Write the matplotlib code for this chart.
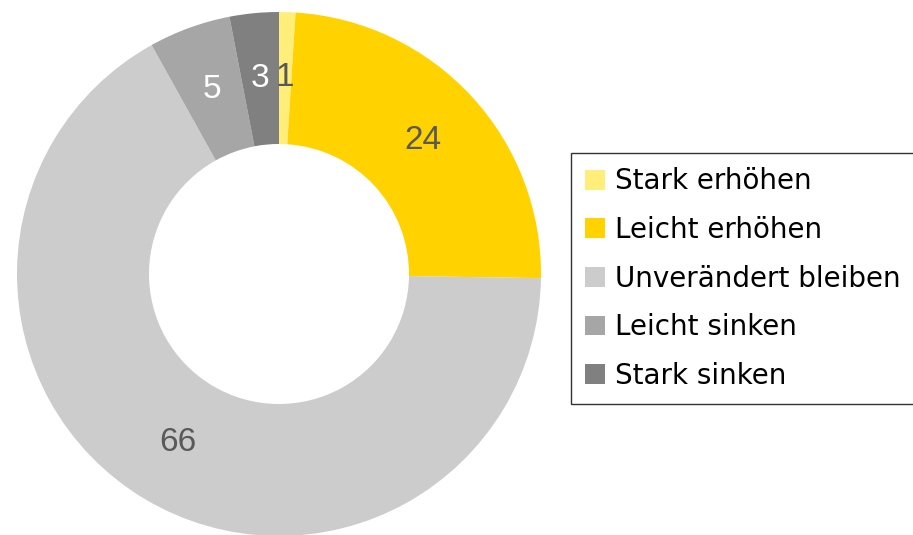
import matplotlib
matplotlib.use("Agg")
import matplotlib.pyplot as plt
from matplotlib.patches import Patch

# Data
categories = ["Stark erhöhen", "Leicht erhöhen", "Unverändert bleiben", "Leicht sinken", "Stark sinken"]
values = [1, 24, 66, 5, 3]
colors = ["#FFEF7A", "#FFD200", "#CCCCCC", "#A6A6A6", "#808080"]
label_colors = ["#595959", "#595959", "#595959", "white", "white"]

fig = plt.figure(figsize=(9.13, 5.35), dpi=100)
ax = fig.add_axes([0, 0, 1, 1])
ax.set_xlim(0, 913)
ax.set_ylim(0, 535)
ax.set_aspect("equal")
ax.axis("off")

# Donut, centre and radius in pixel units
wedges, texts = ax.pie(values, colors=colors, startangle=90, counterclock=False,
                       center=(279, 261), radius=262, labels=[str(v) for v in values],
                       labeldistance=0.75, wedgeprops=dict(width=132, linewidth=0),
                       textprops=dict(fontsize=24, family="Liberation Sans"))
for t, c in zip(texts, label_colors):
    t.set_color(c)
    t.set_ha("center")
    t.set_va("center")
ax.set_xlim(0, 913)
ax.set_ylim(0, 535)

handles = [Patch(facecolor=c, edgecolor="none") for c in colors]
leg = fig.legend(handles, categories, loc="upper left",
                 bbox_to_anchor=(571 / 913, 1 - 153 / 535),
                 frameon=True, fancybox=False, borderaxespad=0,
                 prop=dict(family="DejaVu Sans", size=20),
                 handlelength=0.72, handleheight=0.72, handletextpad=0.36,
                 labelspacing=0.74, borderpad=0.52)
leg.get_frame().set_edgecolor("black")
leg.get_frame().set_linewidth(1.0)

fig.savefig("out.png", dpi=100)
